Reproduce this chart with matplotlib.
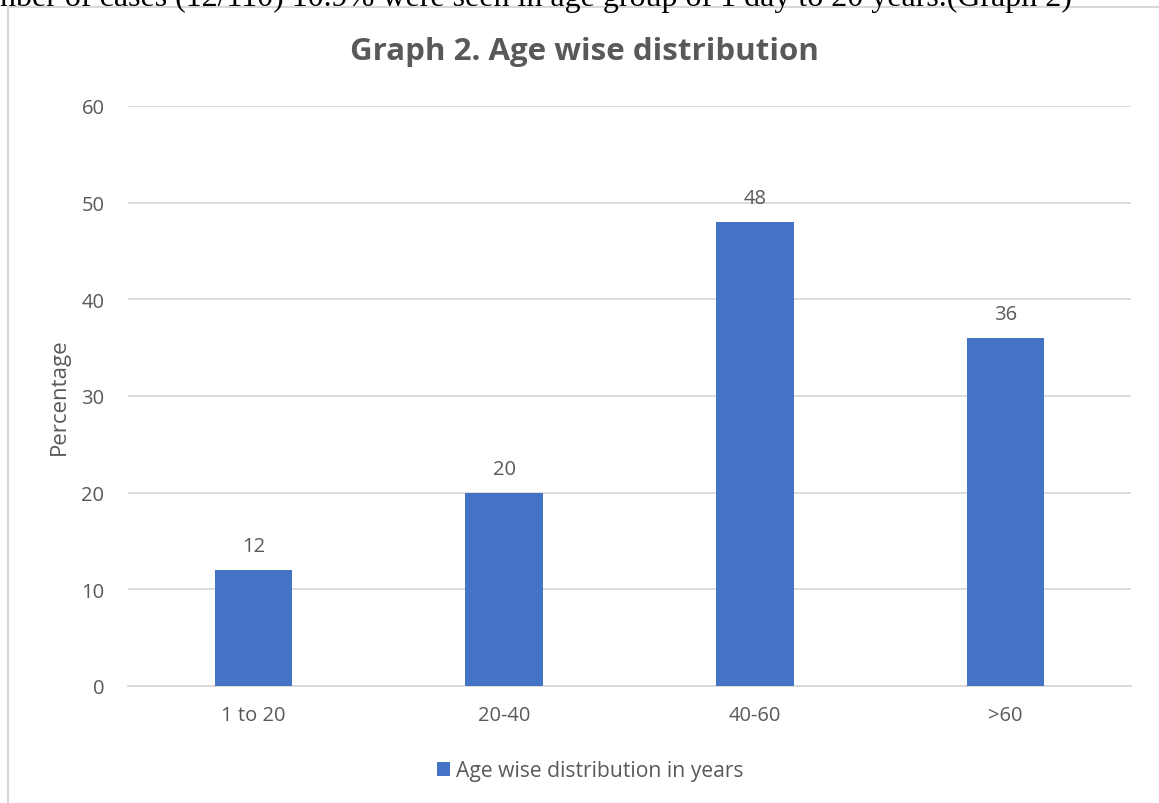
import matplotlib
matplotlib.use("Agg")
import matplotlib.pyplot as plt
from matplotlib.patches import Rectangle

categories = ["1 to 20", "20-40", "40-60", ">60"]
percentages = [12, 20, 48, 36]
y_ticks = [0, 10, 20, 30, 40, 50, 60]
series_name = "Age wise distribution in years"
title = "Graph 2. Age wise distribution"
caption = "nber of cases (12/110) 10.9% were seen in age group of 1 day to 20 years.(Graph 2)"

W, H = 1159, 804
fig = plt.figure(figsize=(W / 100, H / 100), dpi=100)
fig.patch.set_facecolor("white")

text_gray = "#595959"
grid_gray = "#d9d9d9"
bar_blue = "#4472c4"
plt.rcParams["font.family"] = ["Open Sans", "DejaVu Sans"]
fs = 14.5

# Running text of the page above the chart, cut at the top edge
fig.text(1072 / W, 1 - 6 / H, caption, ha="right", va="baseline",
         family=["Liberation Serif"], fontsize=23, color="black")

# Chart area border
fig.patches.append(Rectangle((8 / W, -0.01), 1.1, 1 - 8 / H + 0.01,
                             transform=fig.transFigure, fill=False,
                             edgecolor=grid_gray, linewidth=1.5))

ax = fig.add_axes([128 / W, 1 - 687 / H, (1131 - 128) / W, (687 - 107) / H])
x = range(len(categories))
bars = ax.bar(x, percentages, width=0.31, color=bar_blue, label=series_name, zorder=3)
ax.set_xlim(-0.5, len(categories) - 0.5)
ax.set_ylim(0, 60)
ax.set_yticks(y_ticks)
ax.set_xticks(list(x))
ax.set_xticklabels(categories)
ax.tick_params(axis="both", length=0, colors=text_gray, labelsize=fs)
ax.tick_params(axis="x", pad=14)
ax.tick_params(axis="y", pad=17)
ax.grid(axis="y", color=grid_gray, linewidth=1.3, zorder=0)
for s in ["top", "right", "left"]:
    ax.spines[s].set_visible(False)
ax.spines["bottom"].set_color(grid_gray)
ax.spines["bottom"].set_linewidth(1.3)

for rect, v in zip(bars, percentages):
    ax.annotate(f"{v}", (rect.get_x() + rect.get_width() / 2, v),
                xytext=(0, 10), textcoords="offset points",
                ha="center", va="bottom", fontsize=fs, color=text_gray)

ax.set_ylabel("Percentage", fontsize=16, color=text_gray)
ax.yaxis.set_label_coords(-69 / (1131 - 128), 0.5)
ax.yaxis.label.set_verticalalignment("center")

fig.text(584 / W, 1 - 52 / H, title, ha="center", va="center",
         fontsize=22.5, fontweight="bold", color=text_gray)

fig.legend(handles=[bars], labels=[series_name], loc="center",
           bbox_to_anchor=(590 / W, 1 - 772 / H), frameon=False,
           fontsize=15.2, labelcolor=text_gray, handlelength=0.65,
           handleheight=0.65, handletextpad=0.25)

fig.savefig("out.png", dpi=100, facecolor="white")
